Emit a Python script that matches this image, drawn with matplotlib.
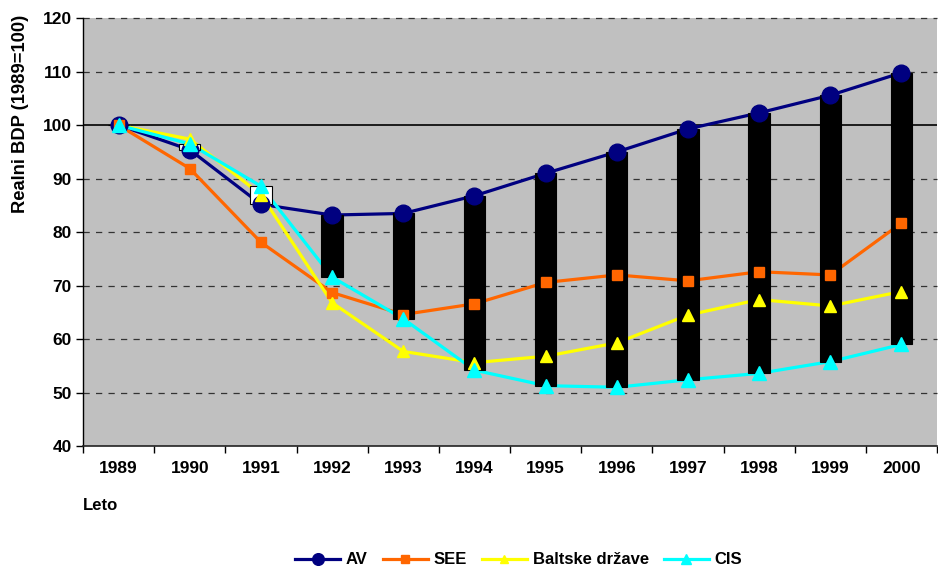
import numpy as np
import matplotlib.pyplot as plt
from matplotlib.lines import Line2D

plt.rcParams['font.family'] = ['Liberation Sans', 'DejaVu Sans']
plt.rcParams['font.weight'] = 'bold'

years = ['1989', '1990', '1991', '1992', '1993', '1994', '1995', '1996',
         '1997', '1998', '1999', '2000']
av = [100, 95.4, 85.2, 83.2, 83.5, 86.8, 91.0, 95.0, 99.3, 102.3, 105.6, 109.8]
see = [100, 91.9, 78.1, 68.7, 64.6, 66.6, 70.6, 72.0, 70.9, 72.6, 72.0, 81.7]
balt = [100, 97.4, 87.0, 66.8, 57.7, 55.6, 56.8, 59.3, 64.5, 67.4, 66.2, 68.9]
cis = [100, 96.5, 88.6, 71.6, 63.8, 54.2, 51.3, 51.0, 52.4, 53.6, 55.8, 59.0]

series = [("AV", av, '#000080', 'o', 12),
          ("SEE", see, '#FF6600', 's', 7.5),
          ("Baltske države", balt, '#FFFF00', '^', 9),
          ("CIS", cis, '#00FFFF', '^', 10)]

fig = plt.figure(figsize=(9.38, 5.69), dpi=100)
ax = fig.add_axes([0.0885, 0.216, 0.9105, 0.752])
ax.set_facecolor('#C0C0C0')

x = np.arange(len(years))

# lines under the up-down bars, markers above
for name, vals, col, mk, ms in series:
    ax.plot(x, vals, color=col, lw=2.3, zorder=2, solid_capstyle='round')

diff = np.array(cis) - np.array(av)
colors = ['white' if d > 0 else 'black' for d in diff]
ax.bar(x, diff, bottom=av, width=0.3, color=colors, edgecolor='black',
       linewidth=0.8, zorder=3)

for name, vals, col, mk, ms in series:
    ax.plot(x, vals, ls='none', marker=mk, ms=ms, color=col, mec=col, zorder=4)

# grid
for g in [50, 60, 70, 80, 90, 110, 120]:
    ax.axhline(g, color='#333333', lw=0.9, ls=(0, (5, 5)), zorder=1, clip_on=False)
ax.axhline(100, color='black', lw=1.2, zorder=1)

ax.set_xlim(-0.5, len(years) - 0.5)
ax.set_ylim(40, 120)
ax.set_yticks(range(40, 121, 10))
ax.set_xticks(x)
ax.set_xticklabels(years)
ax.set_xticks(np.arange(-0.5, len(years), 1), minor=True)
ax.tick_params(axis='x', which='major', length=0, pad=11, labelsize=12.5)
ax.tick_params(axis='x', which='minor', length=5, direction='out', width=1)
ax.tick_params(axis='y', length=5, direction='out', width=1, labelsize=12.5, pad=3)

for s in ['top', 'right']:
    ax.spines[s].set_visible(False)
ax.spines['left'].set_linewidth(1)
ax.spines['bottom'].set_linewidth(1.2)
ax.spines['bottom'].set_color('#222222')

ax.set_ylabel("Realni BDP (1989=100)", fontsize=13.2, fontweight='bold')
ax.yaxis.set_label_coords(-0.063, 0.776)
fig.text(83 / 938, 1 - 505 / 569, "Leto", fontsize=12, fontweight='bold',
         ha='left', va='center')

handles = [Line2D([0], [0], color=col, lw=2.3, marker=mk, ms=ms * 0.7, mec=col)
           for name, vals, col, mk, ms in series]
labels = [s[0] for s in series]
fig.legend(handles, labels, loc='center', bbox_to_anchor=(0.553, 1 - 560 / 569),
           ncol=4, frameon=False, fontsize=12, handlelength=2.7,
           columnspacing=0.9, handletextpad=0.35)

fig.savefig('out.png', dpi=100)
